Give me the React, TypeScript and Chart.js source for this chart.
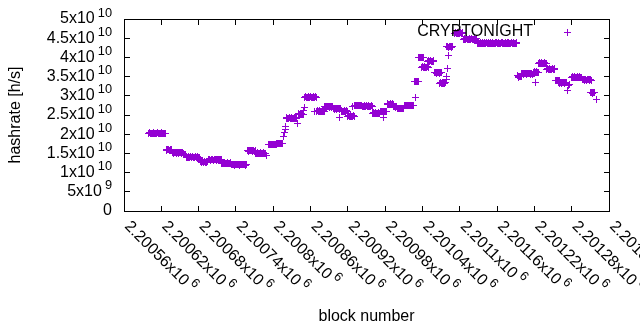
import React, { useEffect, useRef } from "react";
import { Chart, registerables } from "chart.js";

Chart.register(...registerables);

// ---------------- data ----------------
const seriesName = "CRYPTONIGHT";
const xAxisTitle = "block number";
const yAxisTitle = "hashrate [h/s]";

const xMin = 2200560;
const xMax = 2201340;
const xTickStep = 60;
const yMin = 0;
const yMax = 5e10;
const yTickStep = 5e9;

// block numbers are written as offsets from this base block
const blockBase = 2200000;

const blockOffset: number[] = [
  599, 600, 601, 602, 603, 604, 605, 606, 607, 608, 609, 610, 611, 612, 613, 614, 615, 616, 617, 618, 619, 620, 621, 622, 623, 624, 625, 626, 627,
  628, 629, 630, 631, 632, 633, 634, 635, 636, 637,
  638, 639, 640, 641, 642, 643, 644, 645, 646, 647, 648, 649, 650, 651, 652, 653, 654, 655,
  656, 657, 658, 659,
  660, 661, 662, 663, 664, 665, 666, 667, 668, 669, 670, 671, 672, 673, 674, 675, 676, 677, 678, 679, 680, 681, 682,
  683, 684, 685, 686, 687, 688, 689, 690, 691, 692, 693, 694, 695,
  696, 697, 698, 699, 700, 701, 702, 703, 704, 705, 706, 707, 708, 709, 710, 711, 712, 713, 714, 715, 716,
  717, 718, 719, 720, 721, 722, 723, 724, 725, 726, 727, 728, 729, 730, 731, 732,
  733, 734, 735, 736, 737, 738, 739, 740, 741, 742, 743, 744, 745, 746, 747, 748, 749, 750, 751, 752, 753, 754, 755, 756, 757,
  758, 759, 760, 761, 762, 763, 764, 765, 766, 767, 768, 769, 770, 771,
  772, 773, 774, 775, 776, 777, 778, 779, 780, 781, 782, 783, 784, 785, 786, 787,
  789,
  792, 793, 794, 795, 796, 797, 798, 799, 800, 801, 802, 803, 804, 805, 806, 807, 808, 809, 810, 811, 812, 813, 814, 815,
  817, 818, 819, 820,
  821, 822, 823, 824, 825, 826, 827, 828, 829, 830, 831, 832, 833, 834, 835, 836, 837, 838,
  839,
  840, 841, 842, 843, 844, 845, 846, 847, 848,
  849, 850,
  851, 852, 853, 854, 855, 856, 857, 858, 859, 860, 861, 862, 863, 864, 865, 866, 867, 868, 869,
  866,
  870, 871, 872, 873, 874, 875, 876, 877, 878, 879, 880, 881, 882,
  883, 884, 885, 886, 887, 888, 889, 890, 891, 892, 893, 894, 895, 896,
  897, 898, 899, 900, 901, 902, 903, 904, 905, 906, 907, 908,
  906,
  909, 910, 911, 912, 913, 914, 915, 916, 917, 918, 919,
  920, 921, 922, 923, 924, 925, 926, 927, 928, 929, 930,
  927,
  931, 932, 933, 934, 935, 936, 937, 938, 939, 940, 941, 942,
  943, 944, 945, 946, 947, 948, 949, 950, 951, 952, 953, 954, 955, 956, 957, 958, 959,
  960, 961, 962, 963, 964, 965, 966, 967, 968, 969, 970, 971,
  972, 973, 974, 975, 976, 977, 978, 979, 980, 981, 982,
  978,
  983, 984, 985, 986, 987, 988, 989, 990, 991, 992, 993,
  994, 995, 996, 997, 998, 999,
  1000, 1001, 1002, 1003, 1004, 1005, 1006, 1007, 1008, 1009, 1010,
  1011, 1012, 1013, 1014, 1015, 1016, 1017, 1018, 1019, 1020, 1021, 1022, 1023, 1024, 1025, 1026,
  1028,
  1027, 1028, 1029, 1030, 1031, 1032, 1033,
  1034, 1035, 1036, 1037, 1038, 1039, 1040, 1041,
  1039, 1040, 1041, 1042, 1043, 1044, 1045, 1046, 1047, 1048, 1049,
  1048, 1049, 1050, 1051, 1052, 1053, 1054, 1055, 1056, 1057, 1058,
  1060, 1061, 1062, 1063, 1064, 1065, 1066, 1067, 1068, 1069, 1070,
  1068, 1069, 1070, 1071, 1072, 1073, 1074, 1075, 1076, 1077,
  1078, 1079, 1080, 1082,
  1079, 1080, 1081, 1082, 1083, 1084, 1085, 1086, 1087, 1088, 1089,
  1092, 1093, 1094, 1095, 1096, 1097, 1098, 1099, 1100, 1101, 1102, 1103, 1104, 1105,
  1106, 1107, 1108, 1109, 1110, 1111, 1112, 1113, 1114, 1115, 1116, 1117, 1118, 1119, 1120, 1121, 1122, 1123, 1124, 1125, 1126, 1127,
  1128, 1129, 1130, 1131, 1132, 1133, 1134, 1135, 1136, 1137,
  1138, 1139, 1140, 1141, 1142, 1143, 1144, 1145, 1146, 1147,
  1148, 1149, 1150, 1151, 1152, 1153, 1154, 1155, 1156, 1157,
  1158, 1159, 1160, 1161, 1162, 1163, 1164, 1165, 1166, 1167,
  1168, 1169, 1170, 1171, 1172, 1173, 1174, 1175, 1176, 1177,
  1178, 1179, 1180, 1181, 1182, 1183, 1184, 1185, 1186, 1187,
  1188, 1189, 1190, 1191, 1192,
  1193, 1194, 1195, 1196, 1197, 1198, 1199,
  1200, 1201, 1202, 1203, 1204, 1205, 1206, 1207, 1208, 1209, 1210, 1211, 1212, 1213, 1214, 1215, 1216, 1217, 1218, 1219, 1220,
  1221,
  1219, 1220, 1221, 1222, 1223, 1224, 1225, 1226,
  1227, 1228, 1229, 1230, 1231, 1232, 1233, 1234, 1235, 1236, 1237, 1238, 1239,
  1240, 1241, 1242, 1243, 1244, 1245, 1246, 1247, 1248, 1249, 1250, 1251, 1252, 1253,
  1254, 1255, 1256, 1257, 1258, 1259, 1260,
  1259, 1260, 1261, 1262, 1263, 1264, 1265, 1266, 1267, 1268, 1269, 1270, 1271,
  1274, 1275, 1277,
  1280, 1281, 1282, 1283, 1284, 1285, 1286, 1287, 1288, 1289, 1290, 1291, 1292, 1293, 1294, 1295, 1296,
  1297, 1298, 1299, 1300, 1301, 1302, 1303, 1304, 1305, 1306, 1307, 1308, 1309, 1310, 1311, 1312,
  1311, 1312, 1313, 1314, 1315, 1316, 1317,
  1320,
];

// hashrate in units of 10^10 h/s (same order as blockOffset)
const hashrateE10: number[] = [
  2.03, 2.03, 2.04, 2.03, 2.03, 2.02, 2.03, 2.03, 2.04, 2.03, 2.03, 2.03, 2.02, 2.03, 2.03, 2.04, 2.03, 2.03, 2.03, 2.02, 2.03, 2.03, 2.04, 2.03, 2.03, 2.03, 2.02, 2.03, 2.03,
  1.59, 1.58, 1.59, 1.6, 1.59, 1.58, 1.59, 1.59, 1.6, 1.58,
  1.52, 1.51, 1.52, 1.52, 1.53, 1.52, 1.51, 1.52, 1.52, 1.52, 1.51, 1.52, 1.52, 1.53, 1.52, 1.51, 1.52, 1.51,
  1.46, 1.46, 1.47, 1.46,
  1.41, 1.4, 1.4, 1.41, 1.4, 1.39, 1.4, 1.41, 1.4, 1.4, 1.41, 1.4, 1.4, 1.39, 1.4, 1.41, 1.4, 1.4, 1.41, 1.4, 1.39, 1.4, 1.4,
  1.3, 1.28, 1.27, 1.3, 1.29, 1.26, 1.28, 1.3, 1.27, 1.29, 1.26, 1.28, 1.3,
  1.33, 1.34, 1.33, 1.32, 1.33, 1.33, 1.34, 1.33, 1.32, 1.33, 1.33, 1.34, 1.33, 1.32, 1.33, 1.33, 1.34, 1.33, 1.32, 1.33, 1.33,
  1.25, 1.24, 1.25, 1.25, 1.26, 1.25, 1.24, 1.25, 1.25, 1.26, 1.25, 1.24, 1.25, 1.25, 1.26, 1.25,
  1.21, 1.22, 1.2, 1.21, 1.19, 1.21, 1.22, 1.2, 1.21, 1.2, 1.22, 1.21, 1.2, 1.19, 1.21, 1.22, 1.21, 1.2, 1.21, 1.22, 1.2, 1.21, 1.19, 1.21, 1.2,
  1.57, 1.58, 1.57, 1.56, 1.57, 1.58, 1.57, 1.57, 1.56, 1.57, 1.58, 1.57, 1.56, 1.57,
  1.51, 1.5, 1.51, 1.52, 1.51, 1.5, 1.51, 1.51, 1.52, 1.51, 1.5, 1.51, 1.52, 1.51, 1.5, 1.51,
  1.44,
  1.73, 1.74, 1.73, 1.72, 1.73, 1.74, 1.73, 1.72, 1.73, 1.74, 1.73, 1.72, 1.73, 1.74, 1.76, 1.77, 1.76, 1.75, 1.76, 1.77, 1.76, 1.75, 1.76, 1.77,
  1.95, 2.04, 2.11, 2.21,
  2.42, 2.43, 2.42, 2.41, 2.42, 2.43, 2.42, 2.41, 2.42, 2.43, 2.42, 2.41, 2.42, 2.43, 2.42, 2.41, 2.42, 2.43,
  2.28,
  2.52, 2.53, 2.52, 2.51, 2.52, 2.53, 2.52, 2.51, 2.52,
  2.63, 2.7,
  2.96, 2.97, 2.96, 2.95, 2.96, 2.97, 2.96, 2.95, 2.96, 2.97, 2.96, 2.95, 2.96, 2.97, 2.96, 2.95, 2.96, 2.97, 2.96,
  2.59,
  2.6, 2.61, 2.6, 2.59, 2.6, 2.61, 2.6, 2.59, 2.6, 2.61, 2.6, 2.59, 2.6,
  2.71, 2.72, 2.71, 2.7, 2.71, 2.72, 2.71, 2.7, 2.71, 2.72, 2.71, 2.7, 2.71, 2.72,
  2.66, 2.65, 2.66, 2.67, 2.66, 2.65, 2.66, 2.67, 2.66, 2.65, 2.66, 2.67,
  2.44,
  2.6, 2.61, 2.6, 2.59, 2.6, 2.61, 2.6, 2.59, 2.6, 2.61, 2.6,
  2.47, 2.48, 2.47, 2.46, 2.47, 2.48, 2.47, 2.46, 2.47, 2.48, 2.47,
  2.73,
  2.75, 2.76, 2.75, 2.74, 2.75, 2.76, 2.75, 2.74, 2.75, 2.76, 2.75, 2.74,
  2.73, 2.72, 2.73, 2.74, 2.73, 2.72, 2.73, 2.74, 2.73, 2.72, 2.73, 2.74, 2.73, 2.72, 2.73, 2.74, 2.73,
  2.55, 2.56, 2.55, 2.54, 2.55, 2.56, 2.55, 2.54, 2.55, 2.56, 2.55, 2.54,
  2.59, 2.6, 2.59, 2.58, 2.59, 2.6, 2.59, 2.58, 2.59, 2.6, 2.59,
  2.44,
  2.78, 2.79, 2.78, 2.77, 2.78, 2.79, 2.78, 2.77, 2.78, 2.79, 2.78,
  2.71, 2.72, 2.71, 2.7, 2.71, 2.72,
  2.67, 2.66, 2.67, 2.68, 2.67, 2.66, 2.67, 2.68, 2.67, 2.66, 2.67,
  2.75, 2.76, 2.75, 2.74, 2.75, 2.76, 2.75, 2.74, 2.75, 2.76, 2.75, 2.74, 2.75, 2.76, 2.75, 2.74,
  2.96,
  3.37, 3.36, 3.38, 3.37, 3.36, 3.37, 3.38,
  4.0, 4.01, 4.0, 3.99, 4.0, 4.01, 4.0, 3.99,
  3.75, 3.76, 3.75, 3.74, 3.75, 3.76, 3.75, 3.74, 3.75, 3.76, 3.75,
  3.9, 3.91, 3.9, 3.89, 3.9, 3.91, 3.9, 3.89, 3.9, 3.91, 3.9,
  3.6, 3.61, 3.6, 3.59, 3.6, 3.61, 3.6, 3.59, 3.6, 3.61, 3.6,
  3.33, 3.34, 3.33, 3.32, 3.33, 3.34, 3.33, 3.32, 3.33, 3.34,
  3.5, 3.43, 3.72, 4.04,
  4.28, 4.29, 4.28, 4.27, 4.28, 4.29, 4.28, 4.27, 4.28, 4.29, 4.28,
  4.63, 4.64, 4.63, 4.62, 4.63, 4.64, 4.63, 4.62, 4.63, 4.64, 4.63, 4.62, 4.63, 4.64,
  4.47, 4.48, 4.47, 4.46, 4.47, 4.48, 4.47, 4.46, 4.47, 4.48, 4.47, 4.46, 4.47, 4.48, 4.47, 4.46, 4.47, 4.48, 4.47, 4.46, 4.47, 4.48,
  4.37, 4.38, 4.37, 4.36, 4.37, 4.38, 4.37, 4.36, 4.37, 4.38,
  4.37, 4.38, 4.37, 4.36, 4.37, 4.38, 4.37, 4.36, 4.37, 4.38,
  4.37, 4.38, 4.37, 4.36, 4.37, 4.38, 4.37, 4.36, 4.37, 4.38,
  4.37, 4.38, 4.37, 4.36, 4.37, 4.38, 4.37, 4.36, 4.37, 4.38,
  4.37, 4.38, 4.37, 4.36, 4.37, 4.38, 4.37, 4.36, 4.37, 4.38,
  4.37, 4.38, 4.37, 4.36, 4.37, 4.38, 4.37, 4.36, 4.37, 4.38,
  4.37, 4.36, 4.37, 4.38, 4.37,
  3.52, 3.5, 3.48, 3.5, 3.51, 3.49, 3.5,
  3.57, 3.58, 3.57, 3.56, 3.57, 3.58, 3.57, 3.56, 3.57, 3.58, 3.57, 3.58, 3.57, 3.56, 3.57, 3.58, 3.57, 3.56, 3.57, 3.58, 3.57,
  3.34,
  3.61, 3.62, 3.61, 3.6, 3.61, 3.62, 3.61, 3.6,
  3.85, 3.86, 3.85, 3.84, 3.85, 3.86, 3.85, 3.84, 3.85, 3.86, 3.85, 3.84, 3.85,
  3.69, 3.7, 3.69, 3.68, 3.69, 3.7, 3.69, 3.68, 3.69, 3.7, 3.69, 3.68, 3.69, 3.7,
  3.4, 3.41, 3.4, 3.39, 3.4, 3.41, 3.4,
  3.34, 3.33, 3.34, 3.35, 3.34, 3.33, 3.34, 3.35, 3.34, 3.33, 3.34, 3.35, 3.34,
  3.15, 3.26, 3.3,
  3.48, 3.49, 3.48, 3.47, 3.48, 3.49, 3.48, 3.47, 3.48, 3.49, 3.48, 3.47, 3.48, 3.49, 3.48, 3.47, 3.48,
  3.42, 3.43, 3.42, 3.41, 3.42, 3.43, 3.42, 3.41, 3.42, 3.43, 3.42, 3.41, 3.42, 3.43, 3.42, 3.41,
  3.08, 3.09, 3.08, 3.07, 3.08, 3.09, 3.08,
  2.91,
];

// ---------------- styling ----------------
const COLOR = "#9400D3";
const FONT = "'Liberation Sans', Arial, sans-serif";
const MAIN_PX = 16;
const SUP_PX = 12.8;
const TICK_LEN = 6;

function sciParts(v: number): [string, string] {
  if (v === 0) return ["0", ""];
  const e = Math.floor(Math.log10(Math.abs(v)) + 1e-9);
  const m = parseFloat((v / Math.pow(10, e)).toPrecision(8));
  return [m + "x10", String(e)];
}

// snap the points to the pixel grid so the 1px "+" marks are crisp like gnuplot's
const pixelSnap = {
  id: "pixelSnap",
  beforeDatasetsDraw(chart: any) {
    chart.data.datasets.forEach((_: any, i: number) => {
      const meta = chart.getDatasetMeta(i);
      meta.data.forEach((el: any) => {
        el.x = Math.floor(el.x) + 0.5;
        el.y = Math.floor(el.y) + 0.5;
      });
    });
  },
};

const gnuplotFrame = {
  id: "gnuplotFrame",
  afterDraw(chart: any) {
    const ctx: CanvasRenderingContext2D = chart.ctx;
    const { left, right, top, bottom } = chart.chartArea;
    const xs = chart.scales.x;
    const ys = chart.scales.y;
    ctx.save();
    ctx.strokeStyle = "#000";
    ctx.lineWidth = 1;
    ctx.strokeRect(left + 0.5, top + 0.5, right - left, bottom - top);
    ctx.beginPath();
    ys.ticks.forEach((t: any) => {
      const y = Math.floor(ys.getPixelForValue(t.value)) + 0.5;
      ctx.moveTo(left, y);
      ctx.lineTo(left + TICK_LEN, y);
      ctx.moveTo(right + 1, y);
      ctx.lineTo(right + 1 - TICK_LEN, y);
    });
    xs.ticks.forEach((t: any) => {
      const x = Math.floor(xs.getPixelForValue(t.value)) + 0.5;
      ctx.moveTo(x, bottom + 1);
      ctx.lineTo(x, bottom + 1 - TICK_LEN);
      ctx.moveTo(x, top);
      ctx.lineTo(x, top + TICK_LEN);
    });
    ctx.stroke();

    ctx.fillStyle = "#000";
    ctx.textBaseline = "middle";
    const mainFont = `${MAIN_PX}px ${FONT}`;
    const supFont = `${SUP_PX}px ${FONT}`;
    const gap = 3;
    const supRaise = 6;

    const yRight = left - 12;
    ys.ticks.forEach((t: any) => {
      const y = ys.getPixelForValue(t.value);
      const [m, e] = sciParts(t.value);
      ctx.font = mainFont;
      const wm = ctx.measureText(m).width;
      let we = 0;
      if (e) {
        ctx.font = supFont;
        we = ctx.measureText(e).width;
      }
      const total = wm + (e ? gap + we : 0);
      const x0 = yRight - total;
      ctx.textAlign = "left";
      ctx.font = mainFont;
      ctx.fillText(m, x0, y);
      if (e) {
        ctx.font = supFont;
        ctx.fillText(e, x0 + wm + gap, y - supRaise);
      }
    });

    xs.ticks.forEach((t: any) => {
      const x = xs.getPixelForValue(t.value);
      const [m, e] = sciParts(t.value);
      ctx.save();
      ctx.translate(x + 3, bottom + 13);
      ctx.rotate(Math.PI / 4);
      ctx.textAlign = "left";
      ctx.font = mainFont;
      const wm = ctx.measureText(m).width;
      ctx.fillText(m, 0, 0);
      if (e) {
        ctx.font = supFont;
        ctx.fillText(e, wm + gap, -supRaise);
      }
      ctx.restore();
    });

    ctx.font = mainFont;
    ctx.textAlign = "center";
    ctx.fillText(xAxisTitle, (left + right) / 2, 317);
    ctx.save();
    ctx.translate(16, (top + bottom) / 2);
    ctx.rotate(-Math.PI / 2);
    ctx.fillText(yAxisTitle, 0, 0);
    ctx.restore();

    ctx.textAlign = "right";
    ctx.fillText(seriesName, 533, 32);
    ctx.strokeStyle = COLOR;
    ctx.beginPath();
    ctx.moveTo(564, 32.5);
    ctx.lineTo(571, 32.5);
    ctx.moveTo(567.5, 29);
    ctx.lineTo(567.5, 36);
    ctx.stroke();

    ctx.restore();
  },
};

export default function App() {
  const ref = useRef<HTMLCanvasElement | null>(null);

  useEffect(() => {
    if (!ref.current) return;
    const n = Math.min(blockOffset.length, hashrateE10.length);
    const points = blockOffset.slice(0, n).map((o, i) => ({
      x: blockBase + o,
      y: hashrateE10[i] * 1e10,
    }));
    const chart = new Chart(ref.current, {
      type: "scatter",
      data: {
        datasets: [
          {
            label: seriesName,
            data: points,
            showLine: false,
            pointStyle: "cross",
            pointRadius: 3.5,
            pointHoverRadius: 3.5,
            pointBorderWidth: 1,
            borderColor: COLOR,
            backgroundColor: COLOR,
          },
        ],
      },
      options: {
        responsive: false,
        animation: false,
        devicePixelRatio: 1,
        events: [],
        layout: { padding: { left: 124, right: 31, top: 19, bottom: 119 } },
        plugins: { legend: { display: false }, tooltip: { enabled: false } },
        scales: {
          x: {
            type: "linear",
            min: xMin,
            max: xMax,
            ticks: { display: false, stepSize: xTickStep },
            grid: { display: false, drawTicks: false, tickLength: 0 },
            border: { display: false },
          },
          y: {
            type: "linear",
            min: yMin,
            max: yMax,
            ticks: { display: false, stepSize: yTickStep },
            grid: { display: false, drawTicks: false, tickLength: 0 },
            border: { display: false },
          },
        },
      },
      plugins: [pixelSnap, gnuplotFrame],
    });
    return () => chart.destroy();
  }, []);

  return (
    <div style={{ position: "absolute", left: 0, top: 0, width: 640, height: 330, background: "#fff" }}>
      <canvas ref={ref} width={640} height={330} style={{ display: "block", width: 640, height: 330 }} />
    </div>
  );
}
